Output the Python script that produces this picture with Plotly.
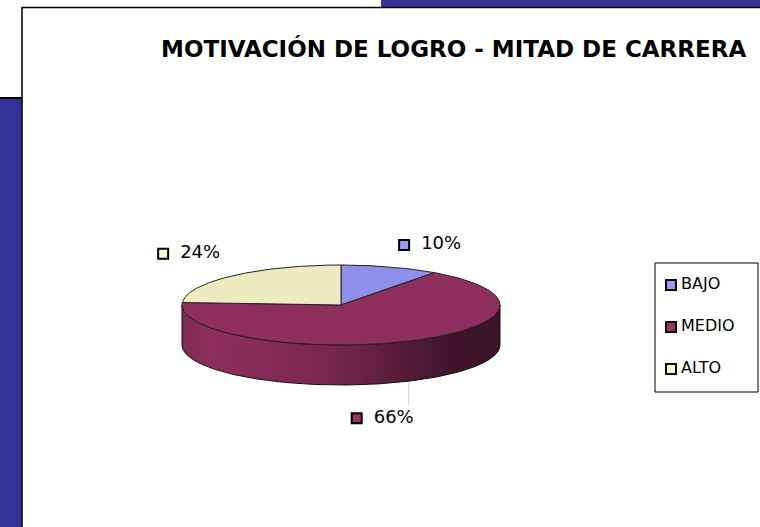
import numpy as np
import plotly.graph_objects as go

# ---------------- data ----------------
categories = ["BAJO", "MEDIO", "ALTO"]
values = [10, 66, 24]
pct_labels = ["10%", "66%", "24%"]
title_text = "MOTIVACIÓN DE LOGRO - MITAD DE CARRERA"

# ---------------- style ----------------
top_colors = ["#8F8FEA", "#8E2E5C", "#EDEBC0"]
legend_colors = ["#9999FF", "#993366", "#FFFFCC"]
W, H = 760, 527
CX, CY, RX, RY, DEPTH = 341, 305, 159, 40, 40
label_offsets = [(14, -22), (-52, 77), (-69, -22)]   # square position relative to slice mid point
FONT = "DejaVu Sans"


def shade(hexcol, f):
    h = hexcol.lstrip("#")
    r, g, b = (int(h[i:i + 2], 16) for i in (0, 2, 4))
    return "rgb(%d,%d,%d)" % (min(255, r * f), min(255, g * f), min(255, b * f))


def ell(theta_deg, dy=0.0):
    t = np.radians(theta_deg)
    return CX + RX * np.sin(t), CY - RY * np.cos(t) + dy


total = float(sum(values))
bounds = np.concatenate([[0.0], np.cumsum(values) / total * 360.0])

fig = go.Figure()

# side walls (visible front part only: angles 90..270 clockwise from top)
for i, cat in enumerate(categories):
    a, b = max(bounds[i], 90.0), min(bounds[i + 1], 270.0)
    if a >= b:
        continue
    ts = np.linspace(a, b, 200)
    xt, yt = ell(ts)
    xb, yb = ell(ts[::-1], DEPTH)
    xs = np.concatenate([xt, xb, xt[:1]])
    ys = np.concatenate([yt, yb, yt[:1]])
    base = top_colors[i]
    fig.add_trace(go.Scatter(
        x=xs, y=ys, mode="lines", fill="toself",
        fillgradient=dict(type="horizontal", colorscale=[
            [0.0, shade(base, 0.9)], [0.08, shade(base, 1.0)], [0.45, shade(base, 0.86)],
            [0.85, shade(base, 0.45)], [1.0, shade(base, 0.42)]]),
        line=dict(color="#111111", width=1),
        hoverinfo="skip", showlegend=False))

# top surface wedges
for i, cat in enumerate(categories):
    ts = np.linspace(bounds[i], bounds[i + 1], 200)
    xa, ya = ell(ts)
    xs = np.concatenate([[CX], xa, [CX]])
    ys = np.concatenate([[CY], ya, [CY]])
    fig.add_trace(go.Scatter(
        x=xs, y=ys, mode="lines", fill="toself", fillcolor=top_colors[i],
        line=dict(color="#222222", width=1),
        hoverinfo="skip", showlegend=False))

# data labels
mids = (bounds[:-1] + bounds[1:]) / 2.0
lx, ly = [], []
for i, m in enumerate(mids):
    px, py = ell(m)
    lx.append(px + label_offsets[i][0])
    ly.append(py + label_offsets[i][1])
    if np.cos(np.radians(m)) < 0:   # front slice: leader line from bottom edge
        fig.add_trace(go.Scatter(
            x=[px, px], y=[py + DEPTH + 1, ly[-1] - 13], mode="lines",
            line=dict(color="#D0D0D0", width=1), hoverinfo="skip", showlegend=False))

fig.add_trace(go.Scatter(
    x=lx, y=ly, mode="markers",
    marker=dict(symbol="square", size=10, color=legend_colors, line=dict(color="black", width=2)),
    hoverinfo="skip", showlegend=False))
fig.add_trace(go.Scatter(
    x=[v + 17 for v in lx], y=ly, mode="text", text=pct_labels, textposition="middle right",
    textfont=dict(family=FONT, size=18, color="black"),
    hoverinfo="skip", showlegend=False))

# legend (manual)
LGX, LGY, LGSTEP = 671, 285, 42
leg_y = [LGY + k * LGSTEP for k in range(len(categories))]
fig.add_trace(go.Scatter(
    x=[LGX] * len(categories), y=leg_y, mode="markers",
    marker=dict(symbol="square", size=10, color=legend_colors, line=dict(color="black", width=2)),
    hoverinfo="skip", showlegend=False))
fig.add_trace(go.Scatter(
    x=[LGX + 10] * len(categories), y=leg_y, mode="text", text=categories, textposition="middle right",
    textfont=dict(family=FONT, size=16, color="black"),
    hoverinfo="skip", showlegend=False))

shapes = [
    dict(type="rect", x0=0, x1=381, y0=0, y1=98, fillcolor="white", line=dict(width=0), layer="below"),
    dict(type="line", x0=0, x1=22, y0=98, y1=98, line=dict(color="black", width=2), layer="below"),
    dict(type="rect", x0=22, x1=W + 5, y0=7.5, y1=H + 5, fillcolor="white",
         line=dict(color="black", width=1.5), layer="below"),
    dict(type="rect", x0=655, x1=758, y0=263, y1=392, fillcolor="rgba(0,0,0,0)",
         line=dict(color="black", width=1), layer="above"),
]

fig.update_layout(
    width=W, height=H, margin=dict(l=0, r=0, t=0, b=0),
    paper_bgcolor="#333399", plot_bgcolor="rgba(0,0,0,0)",
    xaxis=dict(range=[0, W], visible=False, fixedrange=True),
    yaxis=dict(range=[H, 0], visible=False, fixedrange=True),
    shapes=shapes, showlegend=False,
    annotations=[dict(x=453, y=48, xref="x", yref="y", text="<b>%s</b>" % title_text,
                      showarrow=False, font=dict(family=FONT, size=23, color="black"))],
)

fig.write_html("out.html", config={"displayModeBar": False},
               post_script="document.body.style.margin='0';document.body.style.overflow='hidden';")
